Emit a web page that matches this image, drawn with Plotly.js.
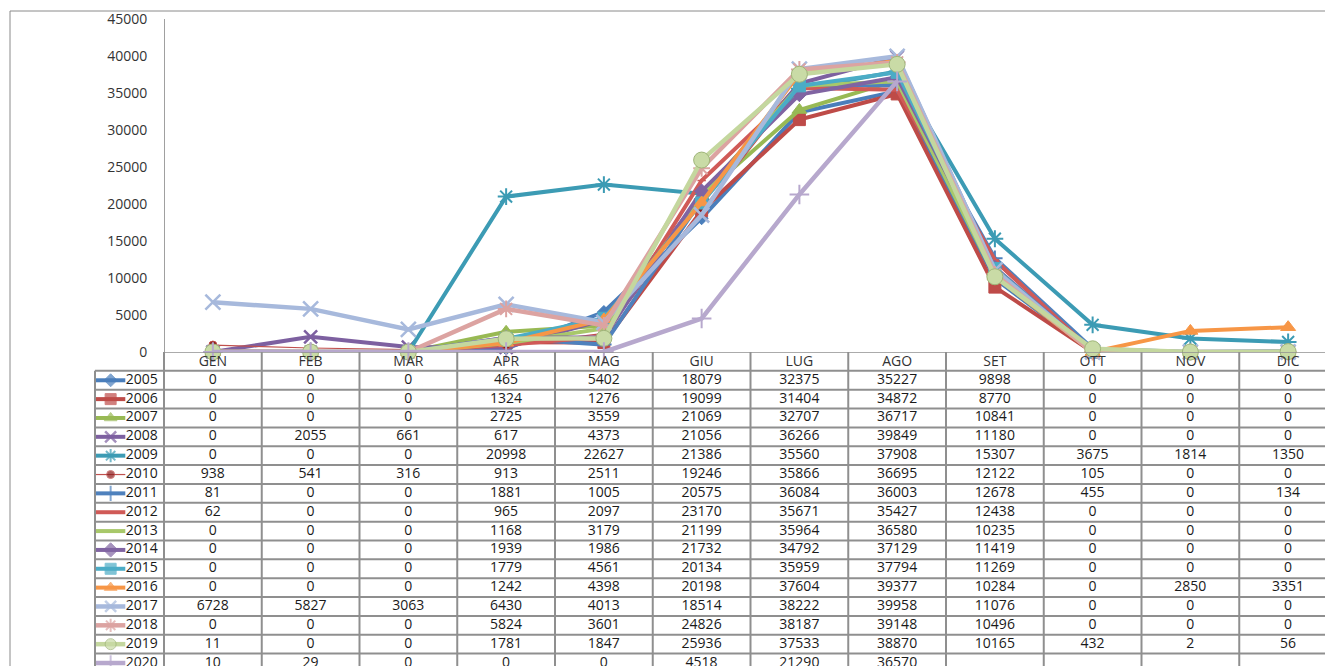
<!DOCTYPE html>
<html><head><meta charset="utf-8">
<script src="https://cdn.plot.ly/plotly-3.0.1.min.js"></script>
<style>html,body{margin:0;padding:0;background:#fff}#chart{width:1325px;height:666px}</style>
</head><body><div id="chart"></div>
<script>
const months = ['GEN','FEB','MAR','APR','MAG','GIU','LUG','AGO','SET','OTT','NOV','DIC'];
const years = ['2005','2006','2007','2008','2009','2010','2011','2012','2013','2014','2015','2016','2017','2018','2019','2020'];
const s2005 = [0,0,0,465,5402,18079,32375,35227,9898,0,0,0];
const s2006 = [0,0,0,1324,1276,19099,31404,34872,8770,0,0,0];
const s2007 = [0,0,0,2725,3559,21069,32707,36717,10841,0,0,0];
const s2008 = [0,2055,661,617,4373,21056,36266,39849,11180,0,0,0];
const s2009 = [0,0,0,20998,22627,21386,35560,37908,15307,3675,1814,1350];
const s2010 = [938,541,316,913,2511,19246,35866,36695,12122,105,0,0];
const s2011 = [81,0,0,1881,1005,20575,36084,36003,12678,455,0,134];
const s2012 = [62,0,0,965,2097,23170,35671,35427,12438,0,0,0];
const s2013 = [0,0,0,1168,3179,21199,35964,36580,10235,0,0,0];
const s2014 = [0,0,0,1939,1986,21732,34792,37129,11419,0,0,0];
const s2015 = [0,0,0,1779,4561,20134,35959,37794,11269,0,0,0];
const s2016 = [0,0,0,1242,4398,20198,37604,39377,10284,0,2850,3351];
const s2017 = [6728,5827,3063,6430,4013,18514,38222,39958,11076,0,0,0];
const s2018 = [0,0,0,5824,3601,24826,38187,39148,10496,0,0,0];
const s2019 = [11,0,0,1781,1847,25936,37533,38870,10165,432,2,56];
const s2020 = [10,29,0,0,0,4518,21290,36570,null,null,null,null];
const yTicks = [0,5000,10000,15000,20000,25000,30000,35000,40000,45000];

const series = [s2005,s2006,s2007,s2008,s2009,s2010,s2011,s2012,s2013,s2014,s2015,s2016,s2017,s2018,s2019,s2020];
const styles = [
 {c:'#4A7EBB', w:4, sym:'diamond', ms:10},
 {c:'#BE4B48', w:4, sym:'square', ms:12},
 {c:'#98B954', w:4, sym:'triangle-up', ms:13},
 {c:'#7D60A0', w:4, sym:'x-thin-open', ms:13, ml:2.5},
 {c:'#3C9BB4', w:4, sym:'asterisk-open', ms:14, ml:2},
 {c:'#C0504D', w:1.2, sym:'circle', ms:8, mc:'#8B1A1A'},
 {c:'#4F81BD', w:4, sym:'cross-thin-open', ms:11, ml:2},
 {c:'#D05A57', w:4, sym:'line-ew-open', ms:6, ml:1.5},
 {c:'#A8C86A', w:4, sym:'line-ew-open', ms:6, ml:1.5},
 {c:'#8064A2', w:4, sym:'diamond', ms:11},
 {c:'#4BACC6', w:4, sym:'square', ms:12},
 {c:'#F79646', w:4, sym:'triangle-up', ms:13},
 {c:'#A7B9DC', w:4.5, sym:'x-thin-open', ms:15, ml:2.5},
 {c:'#DCA3A1', w:4.5, sym:'asterisk-open', ms:14, ml:2},
 {c:'#C4D79E', w:4.5, sym:'circle', ms:16, mc:'#C9DBA6', mlc:'#9FB579'},
 {c:'#B7A8CD', w:4.5, sym:'cross-thin-open', ms:14, ml:2}
];

const W=1325, H=666;
const colW=97.75, colLeft0=164;
const xr0=-colLeft0/colW-0.5, xr1=(W-colLeft0)/colW-0.5;
const rowH=18.85, tableTop=352, plotTop=19;
const yDomTop=1-plotTop/H, yDomBot=1-tableTop/H;
const nRowsVis=(H-tableTop)/rowH;
const legLeft=(95-colLeft0)/colW-0.5;

const xs = months.map((m,i)=>i);
const traces=[];
const font='"Open Sans", "DejaVu Sans", sans-serif';
const fs=14;

series.forEach((s,k)=>{
  const st=styles[k];
  const mk={symbol:st.sym,size:st.ms,color:st.mc||st.c,line:{color:st.mlc||st.c,width:st.ml||1}};
  traces.push({x:xs,y:s,type:'scatter',mode:'lines+markers',name:years[k],cliponaxis:false,
    line:{color:st.c,width:st.w},marker:mk,showlegend:false,hoverinfo:'skip',xaxis:'x',yaxis:'y'});
  const r=k+1.5;
  const kx0=legLeft+0.01, kx1=legLeft+0.31, km=(kx0+kx1)/2;
  traces.push({x:[kx0,km,kx1],y:[r,r,r],type:'scatter',mode:'lines+markers',cliponaxis:false,
    line:{color:st.c,width:st.w},marker:Object.assign({},mk,{size:[0,Math.min(st.ms,11),0]}),
    showlegend:false,hoverinfo:'skip',xaxis:'x',yaxis:'y2'});
  traces.push({x:[kx1+0.005],y:[r],text:[years[k]],mode:'text',textposition:'middle right',type:'scatter',
    textfont:{family:font,size:fs,color:'#1a1a1a'},showlegend:false,hoverinfo:'skip',xaxis:'x',yaxis:'y2',cliponaxis:false});
  traces.push({x:xs,y:xs.map(()=>r),text:s.map(v=>v===null?'':String(v)),mode:'text',type:'scatter',
    textfont:{family:font,size:fs,color:'#1a1a1a'},showlegend:false,hoverinfo:'skip',xaxis:'x',yaxis:'y2',cliponaxis:false});
});
traces.push({x:xs,y:xs.map(()=>0.55),text:months,mode:'text',type:'scatter',
  textfont:{family:font,size:fs,color:'#333'},showlegend:false,hoverinfo:'skip',xaxis:'x',yaxis:'y2',cliponaxis:false});

const shapes=[];
const gridC='#8f8f8f';
for(let i=0;i<=years.length;i++){
  shapes.push({type:'line',xref:'x',yref:'y2',x0:i===0?-0.5:legLeft,x1:12,y0:i,y1:i,line:{color:gridC,width:i===0?1.5:2},layer:'below'});
}
for(let i=0;i<=12;i++){
  shapes.push({type:'line',xref:'x',yref:'y2',x0:i-0.5,x1:i-0.5,y0:0,y1:nRowsVis+1,line:{color:gridC,width:2},layer:'below'});
}
shapes.push({type:'line',xref:'x',yref:'y2',x0:legLeft,x1:legLeft,y0:1,y1:nRowsVis+1,line:{color:gridC,width:2},layer:'below'});
shapes.push({type:'rect',xref:'paper',yref:'paper',x0:10/W,x1:1.05,y0:-0.05,y1:1-11/H,line:{color:'#8a8a8a',width:1},fillcolor:'rgba(0,0,0,0)',layer:'below'});

const layout={
  width:W,height:H,margin:{l:0,r:0,t:0,b:0},paper_bgcolor:'#fff',plot_bgcolor:'rgba(0,0,0,0)',
  showlegend:false,
  xaxis:{domain:[0,1],range:[xr0,xr1],visible:false,fixedrange:true},
  yaxis:{domain:[yDomBot,yDomTop],range:[0,45000],anchor:'free',position:colLeft0/W,
    tickvals:yTicks,tickformat:'d',showgrid:false,zeroline:false,showline:true,linecolor:'#a0a0a0',linewidth:1,
    ticks:'',ticklabelstandoff:14,tickfont:{family:font,size:fs,color:'#333'}},
  yaxis2:{domain:[0,yDomBot],range:[nRowsVis,0],anchor:'x',visible:false,fixedrange:true},
  shapes:shapes
};
Plotly.newPlot('chart',traces,layout,{staticPlot:true});
</script></body></html>
